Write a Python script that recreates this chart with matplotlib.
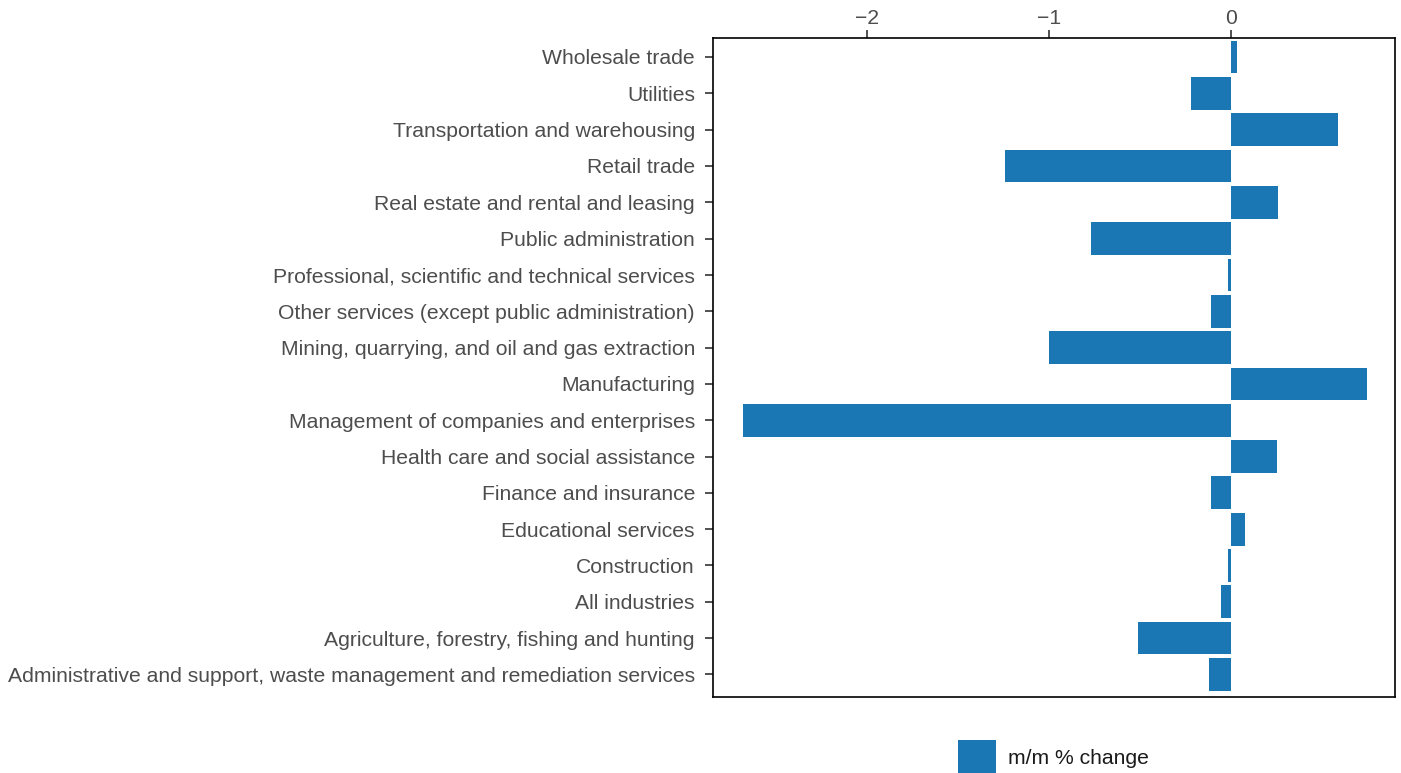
import matplotlib.pyplot as plt
from matplotlib.patches import Patch

plt.rcParams['font.family'] = ['Liberation Sans', 'DejaVu Sans']

# industries, bottom to top
industries = [
    'Administrative and support, waste management and remediation services',
    'Agriculture, forestry, fishing and hunting',
    'All industries',
    'Construction',
    'Educational services',
    'Finance and insurance',
    'Health care and social assistance',
    'Management of companies and enterprises',
    'Manufacturing',
    'Mining, quarrying, and oil and gas extraction',
    'Other services (except public administration)',
    'Professional, scientific and technical services',
    'Public administration',
    'Real estate and rental and leasing',
    'Retail trade',
    'Transportation and warehousing',
    'Utilities',
    'Wholesale trade',
]
mm_change = [-0.12, -0.51, -0.055, -0.015, 0.075, -0.11, 0.255, -2.68, 0.745,
             -1.0, -0.11, -0.015, -0.77, 0.26, -1.24, 0.59, -0.22, 0.033]
x_ticks = [-2, -1, 0]
x_tick_labels = ['\u22122', '\u22121', '0']

fig = plt.figure(figsize=(14.01, 7.73), dpi=100)
ax = fig.add_axes([713/1401, 1 - 697/773, (1395 - 713)/1401, (697 - 38)/773])

bar_color = '#1a77b4'
ax.barh(range(len(industries)), mm_change, height=0.9, color=bar_color)

ax.set_yticks(range(len(industries)))
ax.set_yticklabels(industries)
ax.set_xticks(x_ticks)
ax.set_xticklabels(x_tick_labels)
ax.xaxis.tick_top()
ax.tick_params(axis='both', labelsize=15.2, labelcolor='#4d4d4d', color='#333333',
               length=6, width=1.2, direction='out')
ax.tick_params(axis='y', pad=7)
ax.tick_params(axis='x', pad=1.5)
ax.set_xlim(-2.846, 0.901)
ax.set_ylim(-0.62, 17.52)
for s in ax.spines.values():
    s.set_color('black')
    s.set_linewidth(1.2)

# legend square runs off the bottom edge like in the original
handle = Patch(facecolor=bar_color, edgecolor='none')
fig.legend([handle], ['m/m % change'], loc='center left',
           bbox_to_anchor=(958/1401, 1 - 757/773), frameon=False,
           fontsize=15.2, handlelength=1.8, handleheight=2.1,
           handletextpad=0.55, borderpad=0, borderaxespad=0,
           labelcolor='#1a1a1a')

fig.savefig('out.png', dpi=100)
